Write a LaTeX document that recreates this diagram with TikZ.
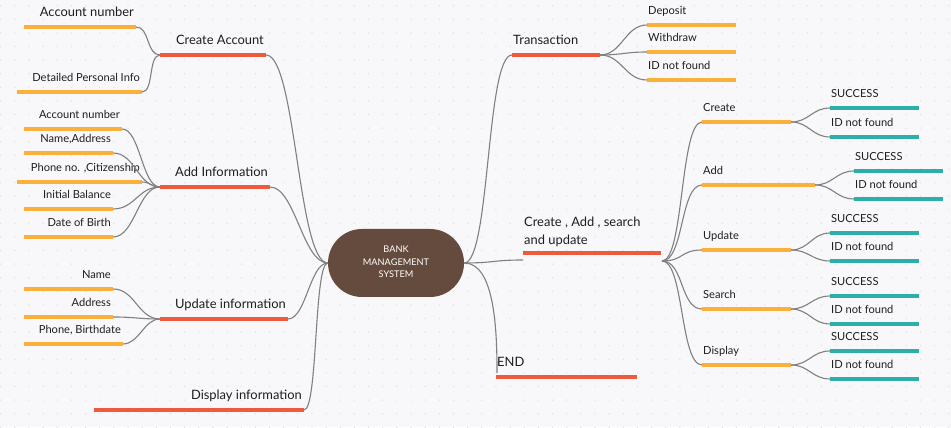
\documentclass[tikz,border=0pt]{standalone}
\usepackage{fontspec}
\setmainfont{Lato}
\usetikzlibrary{positioning}
\definecolor{bgc}{HTML}{F8F8FA}
\definecolor{dotc}{HTML}{DDDDE2}
\definecolor{hubc}{HTML}{654A3E}
\definecolor{redc}{HTML}{EF5A3C}
\definecolor{orac}{HTML}{FBB03B}
\definecolor{teac}{HTML}{2BAFA8}
\definecolor{conc}{HTML}{808080}
\definecolor{txtc}{HTML}{1E1E1E}
\begin{document}
\begin{tikzpicture}[x=1pt,y=-1pt,
  every node/.style={inner sep=0pt,text=txtc},
  hub/.style={fill=hubc,rounded corners=34pt,minimum width=136pt,minimum height=68pt,
    text=white,font=\fontsize{9.2}{12.5}\selectfont},
  redbar/.style={redc,line width=3.6pt},
  orabar/.style={orac,line width=3.6pt},
  teabar/.style={teac,line width=3.6pt},
  conn/.style={conc,line width=1.1pt},
  mainlbl/.style={font=\fontsize{12.9}{18}\selectfont,yshift=10pt},
  sublbl/.style={font=\fontsize{11.1}{13}\selectfont,yshift=10pt},
  leftlbl/.style={anchor=base east,xshift=-2pt},
  rightlbl/.style={anchor=base west,xshift=1pt}]
\fill[bgc] (0,0) rectangle (951,427);
\foreach \i in {0,...,67}
  \foreach \j in {0,...,31}
    \fill[dotc] (0.65+\i*14.15,5.7+\j*13.6) circle[radius=0.7pt];
\useasboundingbox (0,0) rectangle (951,427);
\node[hub] (bms) at (396,263) {\raisebox{6pt}{\begin{tabular}{@{}c@{}}BANK\\MANAGEMENT\\SYSTEM\end{tabular}}};
% left side
\coordinate (ca-l) at (160,55);
\coordinate (ca-r) at (266,55);
\coordinate (ai-l) at (160,187);
\coordinate (ai-r) at (270,187);
\coordinate (ui-l) at (160,319);
\coordinate (ui-r) at (288,319);
\coordinate (di-l) at (94,410);
\coordinate (di-r) at (304,410);
\draw[redbar] (ca-l) -- (ca-r);
\draw[redbar] (ai-l) -- (ai-r);
\draw[redbar] (ui-l) -- (ui-r);
\draw[redbar] (di-l) -- (di-r);
\node[mainlbl,leftlbl] (ca) at (ca-r) {Create Account};
\node[mainlbl,leftlbl] (ai) at (ai-r) {Add Information};
\node[mainlbl,leftlbl] (ui) at (ui-r) {Update information};
\node[mainlbl,leftlbl] (di) at (di-r) {Display information};
\draw[conn] (bms.west) .. controls +(-30,0) and +(30,0) .. (ca-r);
\draw[conn] (bms.west) .. controls +(-25,0) and +(25,0) .. (ai-r);
\draw[conn] (bms.west) .. controls +(-18,0) and +(18,0) .. (ui-r);
\draw[conn] (bms.west) .. controls +(-14,0) and +(14,0) .. (di-r);
\coordinate (acn-l) at (24,27);
\coordinate (acn-r) at (136,27);
\coordinate (dpi-l) at (17,92);
\coordinate (dpi-r) at (142,92);
\draw[orabar] (acn-l) -- (acn-r);
\draw[orabar] (dpi-l) -- (dpi-r);
\node[leftlbl,font=\fontsize{12.9}{15}\selectfont,yshift=10pt] (acn) at (acn-r) {Account number};
\node[sublbl,leftlbl] (dpi) at (dpi-r) {Detailed Personal Info};
\draw[conn] (acn-r) .. controls +(14,0) and +(-14,0) .. (ca-l);
\draw[conn] (dpi-r) .. controls +(12,0) and +(-12,0) .. (ca-l);
\coordinate (acm-l) at (24,129);
\coordinate (acm-r) at (122,129);
\coordinate (nad-l) at (24,153);
\coordinate (nad-r) at (113,153);
\coordinate (pcz-l) at (17,182);
\coordinate (pcz-r) at (142,182);
\coordinate (ib-l) at (24,209);
\coordinate (ib-r) at (113,209);
\coordinate (dob-l) at (24,237);
\coordinate (dob-r) at (113,237);
\draw[orabar] (acm-l) -- (acm-r);
\draw[orabar] (nad-l) -- (nad-r);
\draw[orabar] (pcz-l) -- (pcz-r);
\draw[orabar] (ib-l) -- (ib-r);
\draw[orabar] (dob-l) -- (dob-r);
\node[sublbl,leftlbl] (acm) at (acm-r) {Account number};
\node[sublbl,leftlbl] (nad) at (nad-r) {Name,Address};
\node[sublbl,leftlbl] (pcz) at (pcz-r) {Phone no. ,Citizenship};
\node[sublbl,leftlbl] (ib) at (ib-r) {Initial Balance};
\node[sublbl,leftlbl] (dob) at (dob-r) {Date of Birth};
\draw[conn] (acm-r) .. controls +(18,0) and +(-18,0) .. (ai-l);
\draw[conn] (nad-r) .. controls +(22,0) and +(-22,0) .. (ai-l);
\draw[conn] (pcz-r) .. controls +(8,0) and +(-8,0) .. (ai-l);
\draw[conn] (ib-r) .. controls +(22,0) and +(-22,0) .. (ai-l);
\draw[conn] (dob-r) .. controls +(22,0) and +(-22,0) .. (ai-l);
\coordinate (nm-l) at (24,289);
\coordinate (nm-r) at (113,289);
\coordinate (ad-l) at (24,317);
\coordinate (ad-r) at (113,317);
\coordinate (pb-l) at (24,344);
\coordinate (pb-r) at (123,344);
\draw[orabar] (nm-l) -- (nm-r);
\draw[orabar] (ad-l) -- (ad-r);
\draw[orabar] (pb-l) -- (pb-r);
\node[sublbl,leftlbl] (nm) at (nm-r) {Name};
\node[sublbl,leftlbl] (ad) at (ad-r) {Address};
\node[sublbl,leftlbl] (pb) at (pb-r) {Phone, Birthdate};
\draw[conn] (nm-r) .. controls +(22,0) and +(-22,0) .. (ui-l);
\draw[conn] (ad-r) .. controls +(22,0) and +(-22,0) .. (ui-l);
\draw[conn] (pb-r) .. controls +(16,0) and +(-16,0) .. (ui-l);
% right side
\coordinate (tr-l) at (512,55);
\coordinate (tr-r) at (600,55);
\coordinate (cu-l) at (523,253);
\coordinate (cu-r) at (661,253);
\coordinate (cu-in) at (523,260);
\coordinate (cu-out) at (662,261);
\coordinate (en-l) at (496,377);
\coordinate (en-r) at (637,377);
\coordinate (en-in) at (497,373);
\draw[redbar] (tr-l) -- (tr-r);
\draw[redbar] (cu-l) -- (cu-r);
\draw[redbar] (en-l) -- (en-r);
\node[mainlbl,rightlbl] (tr) at (tr-l) {Transaction};
\node[font=\fontsize{12.9}{18}\selectfont,align=left,anchor=south west,xshift=1pt,yshift=6pt] (cu) at (cu-l) {Create , Add , search\\and update};
\node[mainlbl,rightlbl] (en) at (en-l) {END};
\draw[conn] (bms.east) .. controls +(26,0) and +(-26,0) .. (tr-l);
\draw[conn] (bms.east) .. controls +(30,0) and +(-30,0) .. (cu-in);
\draw[conn] (bms.east) .. controls +(30,0) and +(0,-45) .. (en-in);
\coordinate (dep-l) at (647,25);
\coordinate (dep-r) at (736,25);
\coordinate (wd-l) at (647,52);
\coordinate (wd-r) at (736,52);
\coordinate (inf-l) at (647,80);
\coordinate (inf-r) at (736,80);
\draw[orabar] (dep-l) -- (dep-r);
\draw[orabar] (wd-l) -- (wd-r);
\draw[orabar] (inf-l) -- (inf-r);
\node[sublbl,rightlbl] (dep) at (dep-l) {Deposit};
\node[sublbl,rightlbl] (wd) at (wd-l) {Withdraw};
\node[sublbl,rightlbl] (inf) at (inf-l) {ID not found};
\draw[conn] (tr-r) .. controls +(22,0) and +(-22,0) .. (dep-l);
\draw[conn] (tr-r) .. controls +(22,0) and +(-22,0) .. (wd-l);
\draw[conn] (tr-r) .. controls +(22,0) and +(-22,0) .. (inf-l);
\coordinate (cr-l) at (702,122);
\coordinate (cr-r) at (791,122);
\coordinate (add-l) at (702,185);
\coordinate (add-r) at (815,185);
\coordinate (up-l) at (702,250);
\coordinate (up-r) at (791,250);
\coordinate (se-l) at (702,309);
\coordinate (se-r) at (791,309);
\coordinate (dp-l) at (702,365);
\coordinate (dp-r) at (791,365);
\draw[orabar] (cr-l) -- (cr-r);
\draw[orabar] (add-l) -- (add-r);
\draw[orabar] (up-l) -- (up-r);
\draw[orabar] (se-l) -- (se-r);
\draw[orabar] (dp-l) -- (dp-r);
\node[sublbl,rightlbl] (cr) at (cr-l) {Create};
\node[sublbl,rightlbl] (add) at (add-l) {Add};
\node[sublbl,rightlbl] (up) at (up-l) {Update};
\node[sublbl,rightlbl] (se) at (se-l) {Search};
\node[sublbl,rightlbl] (dp) at (dp-l) {Display};
\foreach \b in {cr,add,up,se,dp}
  \draw[conn] (cu-out) .. controls +(22,0) and +(-22,0) .. (\b-l);
\coordinate (cr-s-l) at (830,108);
\coordinate (cr-s-r) at (919,108);
\coordinate (cr-f-l) at (830,137);
\coordinate (cr-f-r) at (919,137);
\coordinate (add-s-l) at (854,171);
\coordinate (add-s-r) at (943,171);
\coordinate (add-f-l) at (854,199);
\coordinate (add-f-r) at (943,199);
\coordinate (up-s-l) at (830,233);
\coordinate (up-s-r) at (919,233);
\coordinate (up-f-l) at (830,261);
\coordinate (up-f-r) at (919,261);
\coordinate (se-s-l) at (830,296);
\coordinate (se-s-r) at (919,296);
\coordinate (se-f-l) at (830,324);
\coordinate (se-f-r) at (919,324);
\coordinate (dp-s-l) at (830,351);
\coordinate (dp-s-r) at (919,351);
\coordinate (dp-f-l) at (830,379);
\coordinate (dp-f-r) at (919,379);
\foreach \b in {cr,add,up,se,dp} {
  \draw[teabar] (\b-s-l) -- (\b-s-r);
  \draw[teabar] (\b-f-l) -- (\b-f-r);
  \node[sublbl,rightlbl] (\b-s) at (\b-s-l) {SUCCESS};
  \node[sublbl,rightlbl] (\b-f) at (\b-f-l) {ID not found};
  \draw[conn] (\b-r) .. controls +(18,0) and +(-18,0) .. (\b-s-l);
  \draw[conn] (\b-r) .. controls +(18,0) and +(-18,0) .. (\b-f-l);
}
\end{tikzpicture}
\end{document}
